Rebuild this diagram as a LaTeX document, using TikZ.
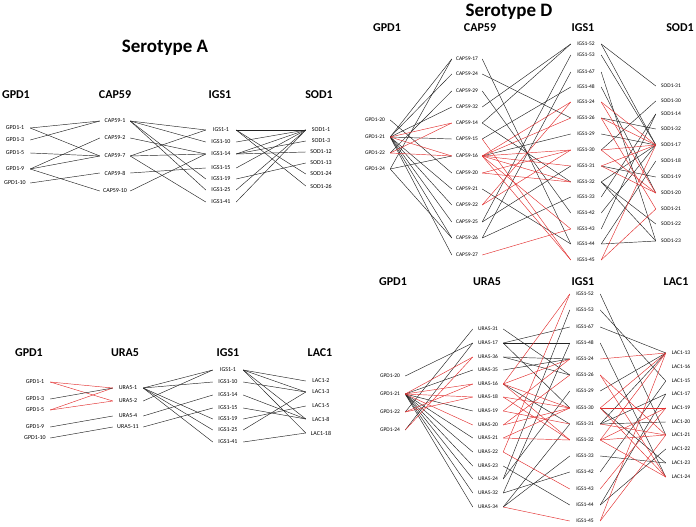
\documentclass[tikz,border=0pt]{standalone}
\usepackage{fontspec}
\setmainfont{Carlito}
\usepackage{tikz}
\usetikzlibrary{positioning}
\definecolor{linkred}{RGB}{226, 48, 48}
\definecolor{linkdark}{RGB}{35, 35, 35}

\begin{document}
\begin{tikzpicture}[x=1pt, y=-1pt, every node/.style={font=\fontsize{6}{7}\selectfont, inner sep=1pt},
    tag/.style={minimum width=30pt, align=center},
    dtag/.style={tag, font=\fontsize{5.5}{6.5}\selectfont},
    gene/.style={font=\bfseries\fontsize{12}{14}\selectfont},
    panel/.style={font=\bfseries\fontsize{19}{22}\selectfont},
    blk/.style={draw=linkdark, line width=0.45pt},
    hot/.style={draw=linkred, line width=0.45pt}]
    \useasboundingbox (0,0) rectangle (696,527);

    % Titles
    \node[panel] (title_a) at (165,48) {Serotype A};
    \node[panel] (title_d) at (509,12) {Serotype D};

    % Serotype A, upper panel
    \node[gene] (sa_h1) at (16,95) {GPD1};
    \node[gene] (sa_h2) at (115,95) {CAP59};
    \node[gene] (sa_h3) at (220,95) {IGS1};
    \node[gene] (sa_h4) at (319,95) {SOD1};
    \foreach \n/\y in {1/128,3/140,5/153,9/169,10/183}
        \node[tag] (sa-gpd-\n) at (15,\y) {GPD1-\n};
    \foreach \n/\y in {1/121,2/138,7/156,8/173,10/191}
        \node[tag] (sa-cap-\n) at (115,\y) {CAP59-\n};
    \foreach \n/\y in {1/130,10/142,14/154,15/168,19/179,25/190,41/202}
        \node[tag] (sa-igs-\n) at (221,\y) {IGS1-\n};
    \foreach \n/\y in {1/130,3/141,12/152,13/163,24/174,26/186}
        \node[tag] (sa-sod-\n) at (321,\y) {SOD1-\n};

    \foreach \a/\b in {1/1,1/7,3/1,5/7,9/2,9/7,9/10,10/8}
        \draw[blk] (sa-gpd-\a.east) -- (sa-cap-\b.west);
    \foreach \a/\b in {1/1,1/10,1/19,1/25,2/14,7/1,7/14,7/41,8/15,10/14}
        \draw[blk] (sa-cap-\a.east) -- (sa-igs-\b.west);
    \foreach \a/\b in {1/1,1/24,1/26,10/1,14/1,14/3,14/12,15/1,19/13,25/1,41/1}
        \draw[blk] (sa-igs-\a.east) -- (sa-sod-\b.west);

    % Serotype A, lower panel
    \node[gene] (la_h1) at (29,353) {GPD1};
    \node[gene] (la_h2) at (125,353) {URA5};
    \node[gene] (la_h3) at (228,353) {IGS1};
    \node[gene] (la_h4) at (320,353) {LAC1};
    \foreach \n/\y in {1/382,3/399,5/410,9/427,10/438}
        \node[tag] (la-gpd-\n) at (35,\y) {GPD1-\n};
    \foreach \n/\y in {1/388,2/401,4/416,11/427}
        \node[tag] (la-ura-\n) at (128,\y) {URA5-\n};
    \foreach \n/\y in {1/370,10/382,14/395,15/408,19/419,25/430,41/442}
        \node[tag] (la-igs-\n) at (228,\y) {IGS1-\n};
    \foreach \n/\y in {2/381,3/392,5/406,8/419,18/433}
        \node[tag] (la-lac-\n) at (321,\y) {LAC1-\n};

    \foreach \a/\b in {1/1,1/2,5/1,5/2}
        \draw[hot] (la-gpd-\a.east) -- (la-ura-\b.west);
    \foreach \a/\b in {3/1,9/4,10/11}
        \draw[blk] (la-gpd-\a.east) -- (la-ura-\b.west);
    \foreach \a/\b in {1/1,1/10,1/19,1/25,1/41,2/1,4/14,11/15}
        \draw[blk] (la-ura-\a.east) -- (la-igs-\b.west);
    \foreach \a/\b in {1/2,1/3,1/8,1/18,10/3,14/8,15/8,19/5,25/3,41/18}
        \draw[blk] (la-igs-\a.east) -- (la-lac-\b.west);

    % Serotype D, upper panel
    \node[gene] (sd_h1) at (387,28) {GPD1};
    \node[gene] (sd_h2) at (480,28) {CAP59};
    \node[gene] (sd_h3) at (583,28) {IGS1};
    \node[gene] (sd_h4) at (680,28) {SOD1};
    \foreach \n/\y in {20/120,21/137,22/153,24/169}
        \node[dtag] (sd-gpd-\n) at (375,\y) {GPD1-\n};
    \foreach \n/\y in {17/59,24/74,29/91,32/107,14/123,15/139,16/156,20/173,21/189,22/205,25/222,26/238,27/255}
        \node[dtag] (sd-cap-\n) at (467,\y) {CAP59-\n};
    \foreach \n/\y in {52/44,53/55,67/72,48/87,24/102,26/118,29/134,30/150,31/166,32/182,33/197,42/213,43/229,44/244,45/260}
        \node[dtag] (sd-igs-\n) at (586,\y) {IGS1-\n};
    \foreach \n/\y in {31/86,30/101,14/114,32/129,17/145,18/161,19/177,20/193,21/209,22/224,23/241}
        \node[dtag] (sd-sod-\n) at (671,\y) {SOD1-\n};

    \foreach \a/\b in {20/20,21/17,21/24,21/32,21/15,21/21,21/22,21/25,21/26,21/27,22/29,24/17,24/16,24/26}
        \draw[blk] (sd-gpd-\a.east) -- (sd-cap-\b.west);
    \foreach \a/\b in {21/14,21/16,22/14,22/16}
        \draw[hot] (sd-gpd-\a.east) -- (sd-cap-\b.west);
    \foreach \a/\b in {17/44,24/26,29/42,32/52,14/52,14/32,16/29,25/53,25/31,26/67,26/33,21/44,15/48}
        \draw[blk] (sd-cap-\a.east) -- (sd-igs-\b.west);
    \foreach \a/\b in {16/24,16/26,16/30,16/31,16/32,16/43,16/45,20/30,20/32,22/24,22/30,27/43,15/45}
        \draw[hot] (sd-cap-\a.east) -- (sd-igs-\b.west);
    \foreach \a/\b in {52/31,52/17,53/17,67/23,48/20,26/32,29/17,30/30,31/19,32/17,32/22,32/23,33/14,42/17,43/14,44/23,44/18}
        \draw[blk] (sd-igs-\a.east) -- (sd-sod-\b.west);
    \foreach \a/\b in {24/17,24/20,26/17,26/21,30/17,30/20,31/17,31/20,45/17,45/21}
        \draw[hot] (sd-igs-\a.east) -- (sd-sod-\b.west);

    % Serotype D, lower panel
    \node[gene] (ld_h1) at (393,282) {GPD1};
    \node[gene] (ld_h2) at (487,282) {URA5};
    \node[gene] (ld_h3) at (583,282) {IGS1};
    \node[gene] (ld_h4) at (676,282) {LAC1};
    \foreach \n/\y in {20/376,21/394,22/412,24/430}
        \node[dtag] (ld-gpd-\n) at (390,\y) {GPD1-\n};
    \foreach \n/\y in {31/329,17/343,36/357,35/370,16/384,18/397,19/411,20/425,21/438,22/452,23/466,24/479,32/493,34/507}
        \node[dtag] (ld-ura-\n) at (488,\y) {URA5-\n};
    \foreach \n/\y in {52/294,53/310,67/327,48/343,24/359,26/375,29/391,30/408,31/424,32/440,33/456,42/472,43/489,44/505,45/521}
        \node[dtag] (ld-igs-\n) at (585,\y) {IGS1-\n};
    \foreach \n/\y in {13/353,16/367,15/381,17/394,19/408,20/422,21/435,22/449,23/463,24/477}
        \node[dtag] (ld-lac-\n) at (681,\y) {LAC1-\n};

    \foreach \a/\b in {20/17,21/35,21/19,21/21,21/22,21/23,21/24,21/32,21/34,22/31,24/17}
        \draw[blk] (ld-gpd-\a.east) -- (ld-ura-\b.west);
    \foreach \a/\b in {21/16,21/18,21/36,21/20,22/16,22/18,24/36}
        \draw[hot] (ld-gpd-\a.east) -- (ld-ura-\b.west);
    \foreach \a/\b in {31/26,17/67,17/48,17/30,36/24,36/26,35/24,16/31,23/44,24/29,24/53,32/42,32/48,34/33,34/31}
        \draw[blk] (ld-ura-\a.east) -- (ld-igs-\b.west);
    \foreach \a/\b in {16/52,16/24,16/30,16/32,18/30,18/32,19/24,19/31,20/26,20/30,21/30,21/32,22/52,22/43,34/45}
        \draw[hot] (ld-ura-\a.east) -- (ld-igs-\b.west);
    \foreach \a/\b in {52/21,53/15,67/13,48/24,29/13,30/23,31/20,31/13,31/17,33/23,42/15,44/22,44/17}
        \draw[blk] (ld-igs-\a.east) -- (ld-lac-\b.west);
    \foreach \a/\b in {24/13,26/21,26/24,30/19,30/13,30/24,31/21,32/19,32/13,32/21,32/24,43/19,45/13,45/21}
        \draw[hot] (ld-igs-\a.east) -- (ld-lac-\b.west);
\end{tikzpicture}
\end{document}
